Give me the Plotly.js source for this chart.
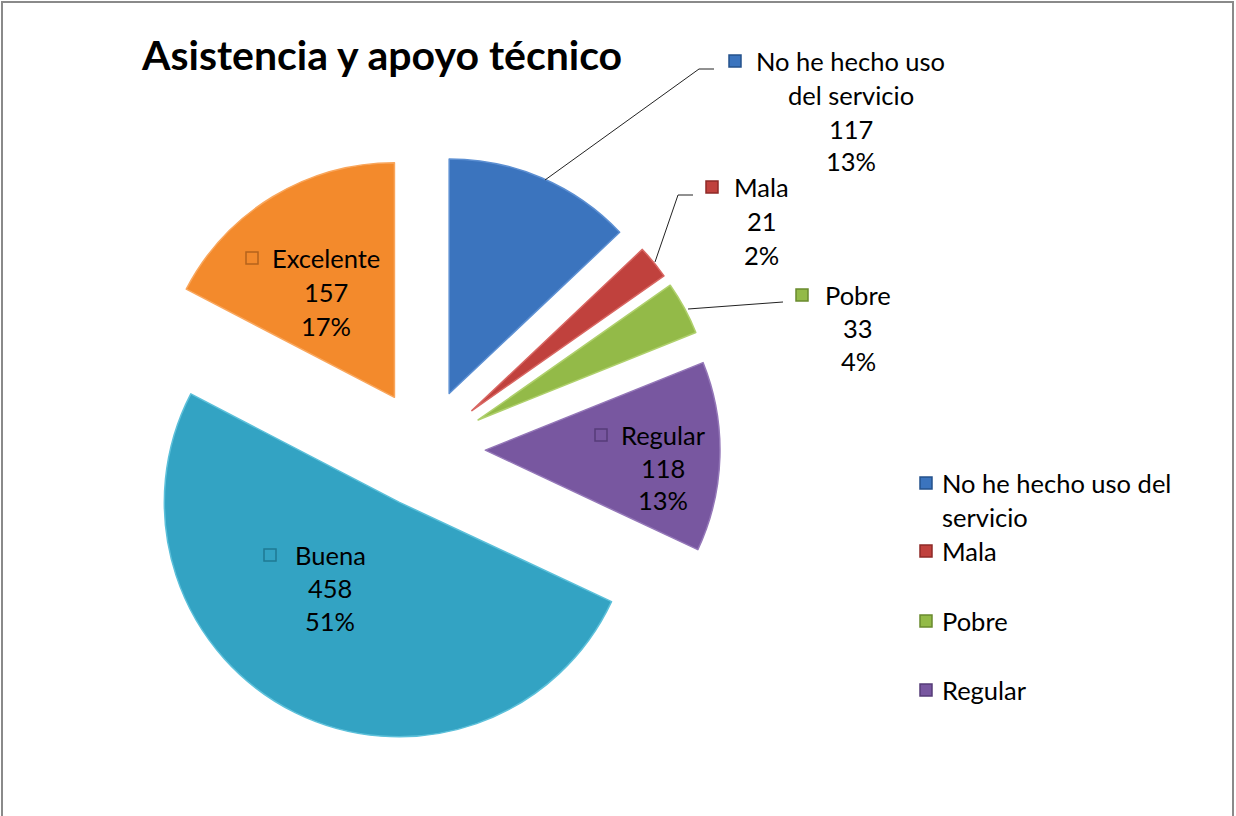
<!DOCTYPE html>
<html>
<head>
<meta charset="utf-8">
<script src="https://cdn.plot.ly/plotly-3.0.1.min.js"></script>
<style>html,body{margin:0;padding:0;background:#fff;}#chart{width:1236px;height:816px;}</style>
</head>
<body>
<div id="chart"></div>
<script>
// ---- data ----
const chartTitle = 'Asistencia y apoyo técnico';
const categories = ['No he hecho uso del servicio', 'Mala', 'Pobre', 'Regular', 'Buena', 'Excelente'];
const values = [117, 21, 33, 118, 458, 157];
const sliceColors = ['#3B74BE', '#C0413D', '#93BA48', '#7857A0', '#33A3C3', '#F38A2C'];
const edgeColors = ['#5C8FD2', '#D86662', '#AFD06C', '#9477B8', '#5CC0DA', '#F9A65C'];
const darkColors = ['#24518C', '#8E2A27', '#6A8A2E', '#553C78', '#1F7A94', '#B5631B'];
const legendCount = 4; // the legend only shows the first four categories

// ---- layout helpers (pixel -> paper) ----
const W = 1236, H = 816;
const px = x => x / W;
const py = y => 1 - y / H;
const FONT = 'Lato, "Open Sans", sans-serif';
const total = values.reduce((a, b) => a + b, 0);

// label block positions: marker position + centre x + line y positions per category
const labelPos = [
  {mx: 735, cx: 851, ys: [61, 95, 129, 161], split: ['No he hecho uso', 'del servicio']},
  {mx: 712, cx: 762, ys: [187, 221, 255]},
  {mx: 802, cx: 858, ys: [295, 328, 361]},
  {mx: 601, cx: 663, ys: [435, 468, 500]},
  {mx: 270, cx: 330, ys: [555, 588, 621]},
  {mx: 252, cx: 326, ys: [258, 292, 326]}
];
const legendRows = [[483, 517], [551], [621], [690]];

const annotations = [];
const shapes = [];

function marker(x, y, i, s) {
  s = s || 12;
  shapes.push({type: 'rect', xref: 'paper', yref: 'paper',
    x0: px(x - s / 2), x1: px(x + s / 2), y0: py(y + s / 2), y1: py(y - s / 2),
    fillcolor: sliceColors[i], line: {color: darkColors[i], width: 1.5}});
}
function txt(x, y, t, anchor, size, bold) {
  annotations.push({xref: 'paper', yref: 'paper', x: px(x), y: py(y), text: bold ? '<b>' + t + '</b>' : t,
    showarrow: false, xanchor: anchor || 'center', yanchor: 'middle',
    font: {family: FONT, size: size || 25.5, color: '#000'}});
}

categories.forEach((c, i) => {
  const p = labelPos[i];
  const nameLines = p.split || [c];
  const lines = nameLines.concat([String(values[i]), Math.round(values[i] / total * 100) + '%']);
  marker(p.mx, p.ys[0], i);
  lines.forEach((l, k) => txt(p.cx, p.ys[k], l));
});

// legend (manual, first four categories)
for (let i = 0; i < legendCount; i++) {
  const rows = legendRows[i];
  const parts = i === 0 ? ['No he hecho uso del', 'servicio'] : [categories[i]];
  marker(926, rows[0], i);
  parts.forEach((t, k) => txt(940, rows[k], t, 'left'));
}

// title
txt(139, 55, chartTitle, 'left', 41, true);

// leader lines
const leaders = [
  [[545, 180], [699, 69], [714, 69]],
  [[655, 262], [678, 195], [693, 195]],
  [[688, 309], [783, 302]]
];
leaders.forEach(pts => {
  const d = pts.map((p, k) => (k ? 'L' : 'M') + px(p[0]) + ',' + py(p[1])).join(' ');
  shapes.push({type: 'path', xref: 'paper', yref: 'paper', path: d, line: {color: '#222', width: 1}});
});

// chart border
shapes.push({type: 'path', xref: 'paper', yref: 'paper',
  path: 'M' + px(2) + ',' + py(820) + ' L' + px(2) + ',' + py(2) + ' L' + px(1233) + ',' + py(2) + ' L' + px(1233) + ',' + py(820),
  line: {color: '#8a8a8a', width: 2}});

const trace = {
  type: 'pie',
  labels: categories,
  values: values,
  sort: false,
  direction: 'clockwise',
  rotation: 0,
  pull: values.map(() => 0.255),
  textinfo: 'none',
  hoverinfo: 'label+value+percent',
  marker: {colors: sliceColors, line: {color: edgeColors, width: 1.5}},
  domain: {x: [px(131), px(720)], y: [py(743), py(154)]},
  showlegend: false
};

const layout = {
  width: W, height: H,
  margin: {l: 0, r: 0, t: 0, b: 0},
  paper_bgcolor: '#fff',
  plot_bgcolor: '#fff',
  showlegend: false,
  annotations: annotations,
  shapes: shapes
};

Plotly.newPlot('chart', [trace], layout, {displayModeBar: false, staticPlot: true});
</script>
</body>
</html>
